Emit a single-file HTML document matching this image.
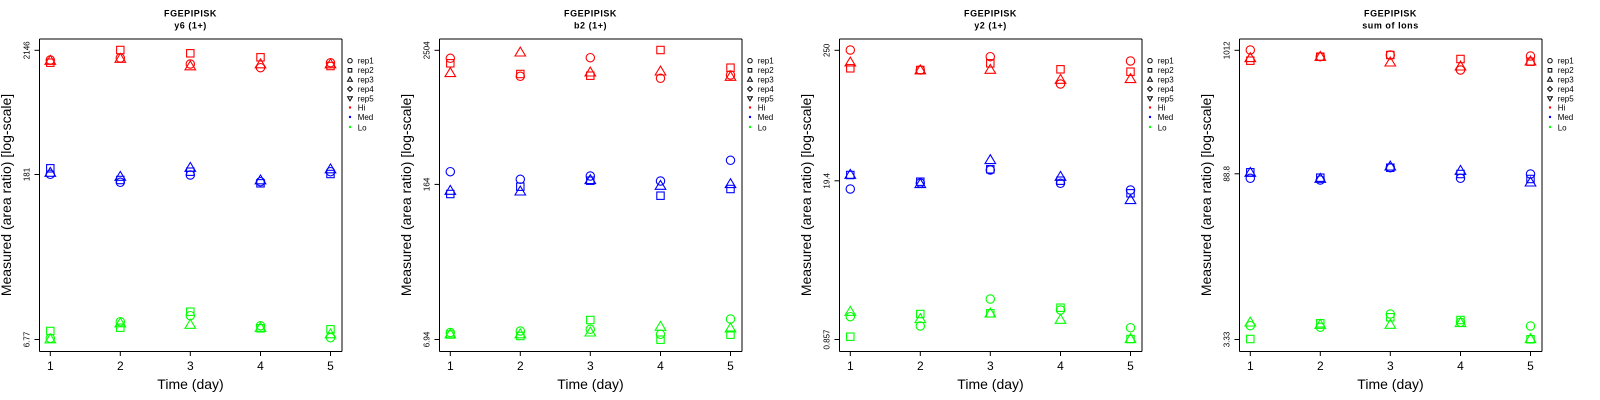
<!DOCTYPE html>
<html>
<head>
<meta charset="utf-8">
<style>
html,body{margin:0;padding:0;background:#fff;}
svg{display:block;}
text{font-family:"Liberation Sans",Arial,Helvetica,sans-serif;fill:#000;}
.ti{font-size:9px;font-weight:bold;letter-spacing:0.55px;}
.yl{font-size:14px;}
.xl{font-size:14px;}
.xt{font-size:12px;}
.yt{font-size:8px;}
.lg{font-size:8px;}
</style>
</head>
<body>
<svg width="1600" height="400" viewBox="0 0 1600 400" xmlns="http://www.w3.org/2000/svg">
<defs>
  <circle id="c" cx="0" cy="0" r="4.2"/>
  <rect id="s" x="-3.7" y="-3.7" width="7.4" height="7.4"/>
  <path id="t" d="M0,-4.6 L5.3,4.3 L-5.3,4.3 Z"/>
  <g id="frame">
    <line x1="39.5" y1="39" x2="342" y2="39" stroke="#000" stroke-width="1"/>
    <line x1="342" y1="39" x2="342" y2="351.5" stroke="#000" stroke-width="1"/>
    <line x1="39.5" y1="39" x2="39.5" y2="351.5" stroke="#000" stroke-width="1"/>
    <line x1="39.5" y1="351.5" x2="342" y2="351.5" stroke="#000" stroke-width="1"/>
    <g stroke="#000" stroke-width="1">
      <line x1="50.3" y1="351.5" x2="50.3" y2="356"/>
      <line x1="120.3" y1="351.5" x2="120.3" y2="356"/>
      <line x1="190.3" y1="351.5" x2="190.3" y2="356"/>
      <line x1="260.5" y1="351.5" x2="260.5" y2="356"/>
      <line x1="330.5" y1="351.5" x2="330.5" y2="356"/>
    </g>
    <g stroke="#000" stroke-width="1" fill="none">
      <circle cx="350" cy="60.7" r="2.2"/>
      <rect x="348.2" y="68.5" width="3.6" height="3.6"/>
      <path d="M350,77 L352.4,81.2 L347.6,81.2 Z"/>
      <path d="M350,86.6 L352.4,89 L350,91.4 L347.6,89 Z"/>
      <path d="M350,100.9 L352.4,96.7 L347.6,96.7 Z"/>
    </g>
    <circle cx="350" cy="107.5" r="1.2" fill="#ff0000"/>
    <circle cx="350" cy="117" r="1.2" fill="#0000ff"/>
    <circle cx="350" cy="127" r="1.2" fill="#00ff00"/>
    <text class="lg" x="357.7" y="63.5">rep1</text>
    <text class="lg" x="357.7" y="73">rep2</text>
    <text class="lg" x="357.7" y="82.3">rep3</text>
    <text class="lg" x="357.7" y="92">rep4</text>
    <text class="lg" x="357.7" y="101.5">rep5</text>
    <text class="lg" x="357.7" y="110.3">Hi</text>
    <text class="lg" x="357.7" y="119.8">Med</text>
    <text class="lg" x="357.7" y="130.3">Lo</text>
  </g>
</defs>

<!-- Panel 1 -->
<g transform="translate(0,0)">
  <use href="#frame"/>
  <text class="ti" x="190.5" y="16.7" text-anchor="middle">FGEPIPISK</text>
  <text class="ti" x="190.5" y="28.7" text-anchor="middle">y6 (1+)</text>
  <text class="yl" transform="translate(10.8,195) rotate(-90)" text-anchor="middle">Measured (area ratio) [log-scale]</text>
  <text class="xl" x="190.5" y="389" text-anchor="middle">Time (day)</text>
  <text class="xt" x="50.3" y="370" text-anchor="middle">1</text>
  <text class="xt" x="120.3" y="370" text-anchor="middle">2</text>
  <text class="xt" x="190.3" y="370" text-anchor="middle">3</text>
  <text class="xt" x="260.5" y="370" text-anchor="middle">4</text>
  <text class="xt" x="330.5" y="370" text-anchor="middle">5</text>
  <g stroke="#000" stroke-width="1"><line x1="34.5" y1="50.3" x2="39.5" y2="50.3"/><line x1="34.5" y1="174.5" x2="39.5" y2="174.5"/><line x1="34.5" y1="339.5" x2="39.5" y2="339.5"/></g>
  <text class="yt" transform="translate(29.3,50.3) rotate(-90)" text-anchor="middle">2146</text>
  <text class="yt" transform="translate(29.3,174.5) rotate(-90)" text-anchor="middle">181</text>
  <text class="yt" transform="translate(29.3,339.5) rotate(-90)" text-anchor="middle">6.77</text>
  <g stroke="#ff0000" fill="none" stroke-width="1.1">
    <use href="#c" x="50.3" y="60"/><use href="#c" x="120.3" y="58"/><use href="#c" x="190.3" y="64"/><use href="#c" x="260.5" y="67.7"/><use href="#c" x="330.5" y="62.7"/>
    <use href="#s" x="50.3" y="62.7"/><use href="#s" x="120.3" y="50"/><use href="#s" x="190.3" y="53.3"/><use href="#s" x="260.5" y="57.3"/><use href="#s" x="330.5" y="66"/>
    <use href="#t" x="50.3" y="60"/><use href="#t" x="120.3" y="58"/><use href="#t" x="190.3" y="65.5"/><use href="#t" x="260.5" y="63.5"/><use href="#t" x="330.5" y="63.5"/>
  </g>
  <g stroke="#0000ff" fill="none" stroke-width="1.1">
    <use href="#c" x="50.3" y="174.3"/><use href="#c" x="120.3" y="182.3"/><use href="#c" x="190.3" y="175"/><use href="#c" x="260.5" y="181.7"/><use href="#c" x="330.5" y="171.7"/>
    <use href="#s" x="50.3" y="168.3"/><use href="#s" x="120.3" y="180"/><use href="#s" x="190.3" y="171.7"/><use href="#s" x="260.5" y="183.3"/><use href="#s" x="330.5" y="174"/>
    <use href="#t" x="50.3" y="172"/><use href="#t" x="120.3" y="176"/><use href="#t" x="190.3" y="167"/><use href="#t" x="260.5" y="179.5"/><use href="#t" x="330.5" y="168.5"/>
  </g>
  <g stroke="#00ff00" fill="none" stroke-width="1.1">
    <use href="#c" x="50.3" y="338.3"/><use href="#c" x="120.3" y="321.7"/><use href="#c" x="190.3" y="315.7"/><use href="#c" x="260.5" y="325.7"/><use href="#c" x="330.5" y="337.7"/>
    <use href="#s" x="50.3" y="331"/><use href="#s" x="120.3" y="327.7"/><use href="#s" x="190.3" y="311.7"/><use href="#s" x="260.5" y="328.3"/><use href="#s" x="330.5" y="329.3"/>
    <use href="#t" x="50.3" y="338.5"/><use href="#t" x="120.3" y="322.5"/><use href="#t" x="190.3" y="324"/><use href="#t" x="260.5" y="327"/><use href="#t" x="330.5" y="333.5"/>
  </g>
</g>

<!-- Panel 2 -->
<g transform="translate(400,0)">
  <use href="#frame"/>
  <text class="ti" x="190.5" y="16.7" text-anchor="middle">FGEPIPISK</text>
  <text class="ti" x="190.5" y="28.7" text-anchor="middle">b2 (1+)</text>
  <text class="yl" transform="translate(10.8,195) rotate(-90)" text-anchor="middle">Measured (area ratio) [log-scale]</text>
  <text class="xl" x="190.5" y="389" text-anchor="middle">Time (day)</text>
  <text class="xt" x="50.3" y="370" text-anchor="middle">1</text>
  <text class="xt" x="120.3" y="370" text-anchor="middle">2</text>
  <text class="xt" x="190.3" y="370" text-anchor="middle">3</text>
  <text class="xt" x="260.5" y="370" text-anchor="middle">4</text>
  <text class="xt" x="330.5" y="370" text-anchor="middle">5</text>
  <g stroke="#000" stroke-width="1"><line x1="34.5" y1="50.3" x2="39.5" y2="50.3"/><line x1="34.5" y1="184.4" x2="39.5" y2="184.4"/><line x1="34.5" y1="339.5" x2="39.5" y2="339.5"/></g>
  <text class="yt" transform="translate(29.3,50.3) rotate(-90)" text-anchor="middle">2504</text>
  <text class="yt" transform="translate(29.3,184.4) rotate(-90)" text-anchor="middle">164</text>
  <text class="yt" transform="translate(29.3,339.5) rotate(-90)" text-anchor="middle">6.94</text>
  <g stroke="#ff0000" fill="none" stroke-width="1.1">
    <use href="#c" x="50.3" y="58.3"/><use href="#c" x="120.3" y="76.3"/><use href="#c" x="190.3" y="57.7"/><use href="#c" x="260.5" y="78.3"/><use href="#c" x="330.5" y="75"/>
    <use href="#s" x="50.3" y="63.3"/><use href="#s" x="120.3" y="74"/><use href="#s" x="190.3" y="75.7"/><use href="#s" x="260.5" y="50"/><use href="#s" x="330.5" y="67.7"/>
    <use href="#t" x="50.3" y="72.3"/><use href="#t" x="120.3" y="51.7"/><use href="#t" x="190.3" y="71.7"/><use href="#t" x="260.5" y="70.7"/><use href="#t" x="330.5" y="76"/>
  </g>
  <g stroke="#0000ff" fill="none" stroke-width="1.1">
    <use href="#c" x="50.3" y="171.7"/><use href="#c" x="120.3" y="179.3"/><use href="#c" x="190.3" y="176"/><use href="#c" x="260.5" y="181"/><use href="#c" x="330.5" y="160.3"/>
    <use href="#s" x="50.3" y="194"/><use href="#s" x="120.3" y="186.7"/><use href="#s" x="190.3" y="180.7"/><use href="#s" x="260.5" y="195.7"/><use href="#s" x="330.5" y="189"/>
    <use href="#t" x="50.3" y="190"/><use href="#t" x="120.3" y="190.7"/><use href="#t" x="190.3" y="179.3"/><use href="#t" x="260.5" y="185"/><use href="#t" x="330.5" y="183.3"/>
  </g>
  <g stroke="#00ff00" fill="none" stroke-width="1.1">
    <use href="#c" x="50.3" y="332.5"/><use href="#c" x="120.3" y="331"/><use href="#c" x="190.3" y="329.3"/><use href="#c" x="260.5" y="334.3"/><use href="#c" x="330.5" y="319"/>
    <use href="#s" x="50.3" y="334.5"/><use href="#s" x="120.3" y="336"/><use href="#s" x="190.3" y="320"/><use href="#s" x="260.5" y="339.7"/><use href="#s" x="330.5" y="334.7"/>
    <use href="#t" x="50.3" y="333.5"/><use href="#t" x="120.3" y="333.5"/><use href="#t" x="190.3" y="331.7"/><use href="#t" x="260.5" y="326"/><use href="#t" x="330.5" y="327.7"/>
  </g>
</g>

<!-- Panel 3 -->
<g transform="translate(800,0)">
  <use href="#frame"/>
  <text class="ti" x="190.5" y="16.7" text-anchor="middle">FGEPIPISK</text>
  <text class="ti" x="190.5" y="28.7" text-anchor="middle">y2 (1+)</text>
  <text class="yl" transform="translate(10.8,195) rotate(-90)" text-anchor="middle">Measured (area ratio) [log-scale]</text>
  <text class="xl" x="190.5" y="389" text-anchor="middle">Time (day)</text>
  <text class="xt" x="50.3" y="370" text-anchor="middle">1</text>
  <text class="xt" x="120.3" y="370" text-anchor="middle">2</text>
  <text class="xt" x="190.3" y="370" text-anchor="middle">3</text>
  <text class="xt" x="260.5" y="370" text-anchor="middle">4</text>
  <text class="xt" x="330.5" y="370" text-anchor="middle">5</text>
  <g stroke="#000" stroke-width="1"><line x1="34.5" y1="50.3" x2="39.5" y2="50.3"/><line x1="34.5" y1="180.8" x2="39.5" y2="180.8"/><line x1="34.5" y1="339.5" x2="39.5" y2="339.5"/></g>
  <text class="yt" transform="translate(29.3,50.3) rotate(-90)" text-anchor="middle">250</text>
  <text class="yt" transform="translate(29.3,180.8) rotate(-90)" text-anchor="middle">19.4</text>
  <text class="yt" transform="translate(29.3,339.5) rotate(-90)" text-anchor="middle">0.857</text>
  <g stroke="#ff0000" fill="none" stroke-width="1.1">
    <use href="#c" x="50.3" y="50"/><use href="#c" x="120.3" y="70"/><use href="#c" x="190.3" y="56.7"/><use href="#c" x="260.5" y="84"/><use href="#c" x="330.5" y="61"/>
    <use href="#s" x="50.3" y="68.3"/><use href="#s" x="120.3" y="70"/><use href="#s" x="190.3" y="63.3"/><use href="#s" x="260.5" y="69.3"/><use href="#s" x="330.5" y="71.7"/>
    <use href="#t" x="50.3" y="61.7"/><use href="#t" x="120.3" y="69.5"/><use href="#t" x="190.3" y="69"/><use href="#t" x="260.5" y="79"/><use href="#t" x="330.5" y="78.3"/>
  </g>
  <g stroke="#0000ff" fill="none" stroke-width="1.1">
    <use href="#c" x="50.3" y="189"/><use href="#c" x="120.3" y="183"/><use href="#c" x="190.3" y="170"/><use href="#c" x="260.5" y="183.3"/><use href="#c" x="330.5" y="190"/>
    <use href="#s" x="50.3" y="175"/><use href="#s" x="120.3" y="181.7"/><use href="#s" x="190.3" y="169.3"/><use href="#s" x="260.5" y="180.7"/><use href="#s" x="330.5" y="193.3"/>
    <use href="#t" x="50.3" y="174"/><use href="#t" x="120.3" y="183.3"/><use href="#t" x="190.3" y="159.3"/><use href="#t" x="260.5" y="176"/><use href="#t" x="330.5" y="199.3"/>
  </g>
  <g stroke="#00ff00" fill="none" stroke-width="1.1">
    <use href="#c" x="50.3" y="316.7"/><use href="#c" x="120.3" y="326"/><use href="#c" x="190.3" y="299"/><use href="#c" x="260.5" y="310"/><use href="#c" x="330.5" y="327.7"/>
    <use href="#s" x="50.3" y="336.7"/><use href="#s" x="120.3" y="314"/><use href="#s" x="190.3" y="313.3"/><use href="#s" x="260.5" y="307.7"/><use href="#s" x="330.5" y="339"/>
    <use href="#t" x="50.3" y="311"/><use href="#t" x="120.3" y="318.3"/><use href="#t" x="190.3" y="312.7"/><use href="#t" x="260.5" y="319"/><use href="#t" x="330.5" y="338.3"/>
  </g>
</g>

<!-- Panel 4 -->
<g transform="translate(1200,0)">
  <use href="#frame"/>
  <text class="ti" x="190.5" y="16.7" text-anchor="middle">FGEPIPISK</text>
  <text class="ti" x="190.5" y="28.7" text-anchor="middle">sum of Ions</text>
  <text class="yl" transform="translate(10.8,195) rotate(-90)" text-anchor="middle">Measured (area ratio) [log-scale]</text>
  <text class="xl" x="190.5" y="389" text-anchor="middle">Time (day)</text>
  <text class="xt" x="50.3" y="370" text-anchor="middle">1</text>
  <text class="xt" x="120.3" y="370" text-anchor="middle">2</text>
  <text class="xt" x="190.3" y="370" text-anchor="middle">3</text>
  <text class="xt" x="260.5" y="370" text-anchor="middle">4</text>
  <text class="xt" x="330.5" y="370" text-anchor="middle">5</text>
  <g stroke="#000" stroke-width="1"><line x1="34.5" y1="50.3" x2="39.5" y2="50.3"/><line x1="34.5" y1="173.8" x2="39.5" y2="173.8"/><line x1="34.5" y1="339.5" x2="39.5" y2="339.5"/></g>
  <text class="yt" transform="translate(29.3,50.3) rotate(-90)" text-anchor="middle">1012</text>
  <text class="yt" transform="translate(29.3,173.8) rotate(-90)" text-anchor="middle">88.8</text>
  <text class="yt" transform="translate(29.3,339.5) rotate(-90)" text-anchor="middle">3.33</text>
  <g stroke="#ff0000" fill="none" stroke-width="1.1">
    <use href="#c" x="50.3" y="50"/><use href="#c" x="120.3" y="56.7"/><use href="#c" x="190.3" y="55"/><use href="#c" x="260.5" y="70"/><use href="#c" x="330.5" y="56"/>
    <use href="#s" x="50.3" y="60.7"/><use href="#s" x="120.3" y="56.7"/><use href="#s" x="190.3" y="55"/><use href="#s" x="260.5" y="59"/><use href="#s" x="330.5" y="61.7"/>
    <use href="#t" x="50.3" y="57.3"/><use href="#t" x="120.3" y="56"/><use href="#t" x="190.3" y="61.7"/><use href="#t" x="260.5" y="65.7"/><use href="#t" x="330.5" y="60.7"/>
  </g>
  <g stroke="#0000ff" fill="none" stroke-width="1.1">
    <use href="#c" x="50.3" y="178.3"/><use href="#c" x="120.3" y="180"/><use href="#c" x="190.3" y="167.7"/><use href="#c" x="260.5" y="178.3"/><use href="#c" x="330.5" y="174"/>
    <use href="#s" x="50.3" y="172.3"/><use href="#s" x="120.3" y="177.7"/><use href="#s" x="190.3" y="167.7"/><use href="#s" x="260.5" y="174"/><use href="#s" x="330.5" y="179"/>
    <use href="#t" x="50.3" y="172"/><use href="#t" x="120.3" y="178"/><use href="#t" x="190.3" y="165.7"/><use href="#t" x="260.5" y="170"/><use href="#t" x="330.5" y="181.7"/>
  </g>
  <g stroke="#00ff00" fill="none" stroke-width="1.1">
    <use href="#c" x="50.3" y="325.7"/><use href="#c" x="120.3" y="327.3"/><use href="#c" x="190.3" y="314"/><use href="#c" x="260.5" y="322.3"/><use href="#c" x="330.5" y="326"/>
    <use href="#s" x="50.3" y="339"/><use href="#s" x="120.3" y="323.3"/><use href="#s" x="190.3" y="317.3"/><use href="#s" x="260.5" y="320"/><use href="#s" x="330.5" y="339.3"/>
    <use href="#t" x="50.3" y="321.7"/><use href="#t" x="120.3" y="324"/><use href="#t" x="190.3" y="324"/><use href="#t" x="260.5" y="322.3"/><use href="#t" x="330.5" y="338.3"/>
  </g>
</g>
</svg>
</body>
</html>
